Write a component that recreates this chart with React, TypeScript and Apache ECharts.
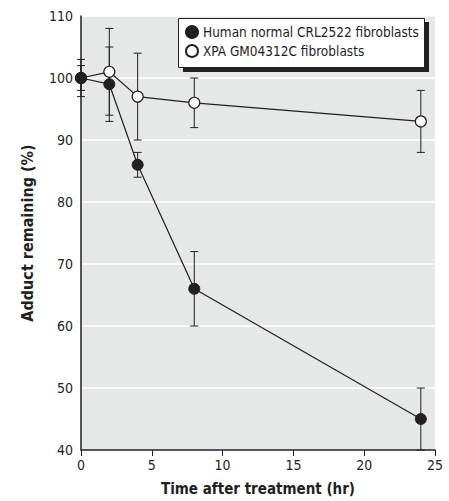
import React, { useEffect, useRef } from "react";
import * as echarts from "echarts";

const times = [0, 2, 4, 8, 24];
const humanMean = [100, 99, 86, 66, 45];
const humanLow = [97, 93, 84, 60, 40];
const humanHigh = [103, 105, 88, 72, 50];
const xpaMean = [100, 101, 97, 96, 93];
const xpaLow = [98, 94, 90, 92, 88];
const xpaHigh = [102, 108, 104, 100, 98];
const seriesNames = ["Human normal CRL2522 fibroblasts", "XPA GM04312C fibroblasts"];
const xTicks = [0, 5, 10, 15, 20, 25];

const FONT = "'Liberation Sans Narrow', 'DejaVu Sans Condensed', 'Arial Narrow', sans-serif";
const INK = "#231f20";

function errorData(lo: number[], hi: number[]) {
  return times.map((t, i) => [t, lo[i], hi[i]]);
}

function renderError(params: any, api: any) {
  const x = api.value(0);
  const p1 = api.coord([x, api.value(1)]);
  const p2 = api.coord([x, api.value(2)]);
  const w = 4;
  const style = { stroke: INK, lineWidth: 1 };
  return {
    type: "group",
    children: [
      { type: "line", shape: { x1: p1[0], y1: p1[1], x2: p2[0], y2: p2[1] }, style },
      { type: "line", shape: { x1: p1[0] - w, y1: p1[1], x2: p1[0] + w, y2: p1[1] }, style },
      { type: "line", shape: { x1: p2[0] - w, y1: p2[1], x2: p2[0] + w, y2: p2[1] }, style },
    ],
  };
}

export default function App() {
  const ref = useRef<HTMLDivElement>(null);
  useEffect(() => {
    document.body.style.margin = "0";
    if (!ref.current) return;
    const chart = echarts.init(ref.current, undefined, { renderer: "svg" });
    chart.setOption({
      animation: false,
      textStyle: { fontFamily: FONT },
      grid: {
        left: 81,
        right: 14,
        top: 16,
        bottom: 48,
        show: true,
        backgroundColor: "#e6e7e7",
        borderWidth: 0,
      },
      xAxis: {
        type: "value",
        min: 0,
        max: 25,
        interval: 5,
        name: "Time after treatment (hr)",
        nameLocation: "middle",
        nameGap: 31,
        nameTextStyle: { fontFamily: FONT, fontSize: 15, fontWeight: "bold", color: INK },
        axisLine: { show: true, onZero: false, lineStyle: { color: INK, width: 1.5 } },
        axisTick: { show: true, inside: false, length: 6, lineStyle: { color: INK } },
        axisLabel: {
          fontFamily: FONT,
          fontSize: 14,
          color: INK,
          margin: 8,
          formatter: (v: number) => (xTicks.includes(v) ? String(v) : ""),
        },
        splitLine: { show: false },
      },
      yAxis: {
        type: "value",
        min: 40,
        max: 110,
        interval: 10,
        name: "Adduct remaining (%)",
        nameLocation: "middle",
        nameGap: 46,
        nameTextStyle: { fontFamily: FONT, fontSize: 16, fontWeight: "bold", color: INK },
        axisLine: { show: true, lineStyle: { color: INK, width: 1.5 } },
        axisTick: { show: false },
        axisLabel: { fontFamily: FONT, fontSize: 14, color: INK, margin: 8 },
        splitLine: {
          show: true,
          lineStyle: { color: "#ffffff", width: 1.5 },
        },
      },
      legend: {
        orient: "vertical",
        left: 185,
        top: 25,
        itemGap: 5,
        itemWidth: 12,
        itemHeight: 12,
        icon: "circle",
        padding: 0,
        z: 20,
        textStyle: { fontFamily: FONT, fontSize: 13.5, color: INK },
        data: seriesNames,
      },
      graphic: [
        {
          type: "rect",
          z: 15,
          shape: { x: 183, y: 22, width: 246, height: 50 },
          style: { fill: INK },
        },
        {
          type: "rect",
          z: 16,
          shape: { x: 178.5, y: 18.5, width: 246, height: 49 },
          style: { fill: "#ffffff", stroke: INK, lineWidth: 1 },
        },
      ],
      series: [
        {
          type: "custom",
          name: "err-human",
          renderItem: renderError,
          data: errorData(humanLow, humanHigh),
          encode: { x: 0, y: [1, 2] },
          z: 1,
          clip: false,
          silent: true,
        },
        {
          type: "custom",
          name: "err-xpa",
          renderItem: renderError,
          data: errorData(xpaLow, xpaHigh),
          encode: { x: 0, y: [1, 2] },
          z: 1,
          clip: false,
          silent: true,
        },
        {
          type: "line",
          name: seriesNames[0],
          data: times.map((t, i) => [t, humanMean[i]]),
          symbol: "circle",
          symbolSize: 11,
          lineStyle: { color: INK, width: 1.2 },
          itemStyle: { color: INK, borderColor: INK, borderWidth: 1 },
          z: 5,
          clip: false,
        },
        {
          type: "line",
          name: seriesNames[1],
          data: times.map((t, i) => [t, xpaMean[i]]),
          symbol: "circle",
          symbolSize: 11,
          lineStyle: { color: INK, width: 1.2 },
          itemStyle: { color: "#ffffff", borderColor: INK, borderWidth: 1.2 },
          z: 4,
          clip: false,
        },
      ],
    });
    return () => chart.dispose();
  }, []);
  return <div ref={ref} style={{ width: 449, height: 501 }} />;
}
